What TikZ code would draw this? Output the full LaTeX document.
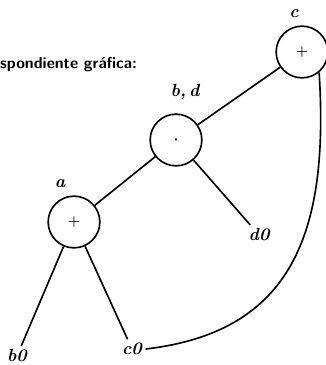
\documentclass[tikz,border=0pt]{standalone}
\usepackage{tikz}
\usetikzlibrary{shapes.geometric, arrows}
\tikzstyle{opnode} = [
    circle,
    minimum size=1.55cm,
    line width=1.4pt,
    draw=black,
    font=\bfseries\boldmath\large
]
\tikzstyle{leaf} = [
    inner sep=3pt,
    font=\fontsize{15}{18}\selectfont\bfseries\itshape
]
\tikzstyle{varname} = [
    inner sep=0pt,
    font=\fontsize{15}{18}\selectfont\bfseries\itshape
]
\tikzstyle{caption} = [
    anchor=west,
    inner sep=0pt,
    font=\fontsize{13.5}{16}\selectfont\sffamily\bfseries
]
\tikzstyle{edge} = [line width=1.4pt]

\begin{document}
\begin{tikzpicture}[x=0.03cm, y=-0.03cm]
\useasboundingbox (0,0) rectangle (325,365);

\node (text) [caption] at (0,65) {spondiente gráfica:};

\node (sum2) [opnode] at (302,52) {$+$};
\node (prod) [opnode] at (176,140) {$\cdot$};
\node (sum1) [opnode] at (74,222) {$+$};

\node (namec) [varname] at (294,14) {c};
\node (namebd) [varname] at (185,92) {b,\,d};
\node (namea) [varname] at (60,184) {a};

\node (d0) [leaf] at (259,235) {d0};
\node (b0) [leaf] at (17,356) {b0};
\node (c0) [leaf] at (132,349) {c0};

\draw [edge] (sum2) -- (prod);
\draw [edge] (prod) -- (sum1);
\draw [edge] (prod) -- (d0);
\draw [edge] (sum1) -- (b0);
\draw [edge] (sum1) -- (c0);
\draw [edge] (c0.east) .. controls +(147,-17) and +(10,160) .. (sum2.-50);

\end{tikzpicture}
\end{document}
